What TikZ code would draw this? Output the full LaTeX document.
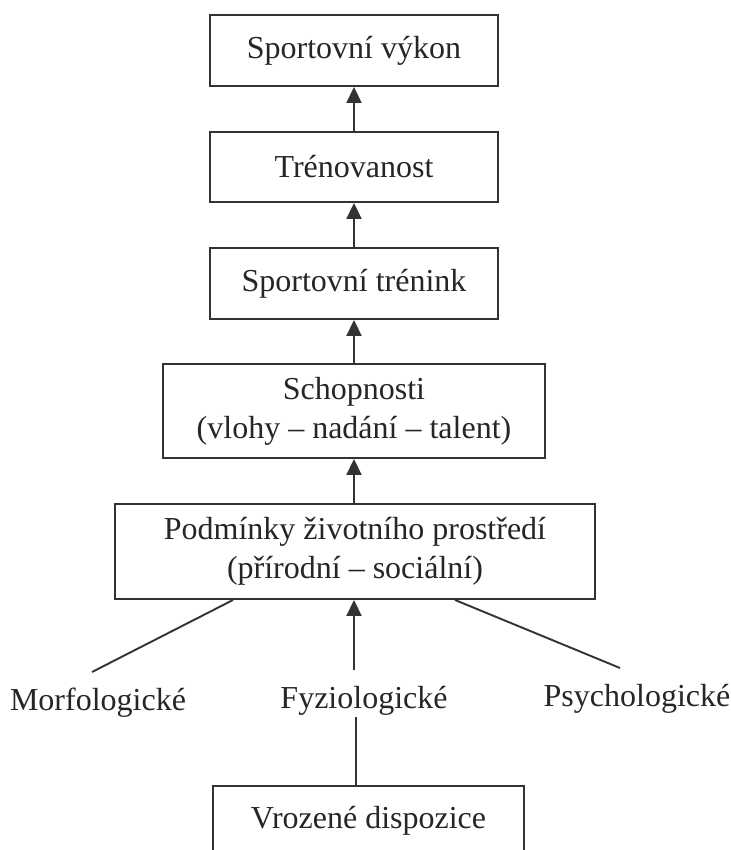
\documentclass[tikz,border=0pt]{standalone}
\usepackage{fontspec}
\setmainfont{Liberation Serif}
\usetikzlibrary{arrows.meta}
\begin{document}
\begin{tikzpicture}[x=1pt,y=-1pt,
  every node/.style={font=\fontsize{32}{39}\selectfont, text=black!85},
  box/.style={draw=black!80, line width=1.9pt, inner sep=0pt, align=center},
  conn/.style={draw=black!80, line width=1.9pt},
  arr/.style={conn, -{Triangle[width=15pt,length=16pt]}}]
\useasboundingbox (0,0) rectangle (730,850);
\clip (0,0) rectangle (730,850);
\fill[white] (0,0) rectangle (730,850);
\node[box, minimum width=288pt, minimum height=71pt] (b1) at (354,50.5) {Sportovní výkon};
\node[box, minimum width=288pt, minimum height=70pt] (b2) at (354,167) {Trénovanost};
\node[box, minimum width=288pt, minimum height=71pt] (b3) at (354,283.5) {Sportovní trénink};
\node[box, minimum width=382pt, minimum height=94pt] (b4) at (354,411) {Schopnosti\\(vlohy – nadání – talent)};
\node[box, minimum width=480pt, minimum height=95pt] (b5) at (355,551.5) {Podmínky životního prostředí\\(přírodní – sociální)};
\node (mor) at (98,703) {Morfologické};
\node (fyz) at (364,701) {Fyziologické};
\node (psy) at (637,699) {Psychologické};
\node[box, anchor=north, minimum width=311pt, minimum height=70pt] (b6) at (368.5,785) {Vrozené dispozice};
\coordinate (ml) at (92,672);
\coordinate (mc) at (354,670);
\coordinate (mr) at (620,668);
\coordinate (b5l) at ([xshift=119pt]b5.south west);
\coordinate (b5r) at ([xshift=-141pt]b5.south east);
\coordinate (fb) at (356,717);
\draw[arr] (b2.north) -- (b1.south);
\draw[arr] (b3.north) -- (b2.south);
\draw[arr] (b4.north) -- (b3.south);
\draw[arr] (b5.north -| b4.south) -- (b4.south);
\draw[arr] (mc) -- (mc |- b5.south);
\draw[conn] (ml) -- (b5l);
\draw[conn] (mr) -- (b5r);
\draw[conn] (fb) -- (fb |- b6.north);
\end{tikzpicture}
\end{document}
